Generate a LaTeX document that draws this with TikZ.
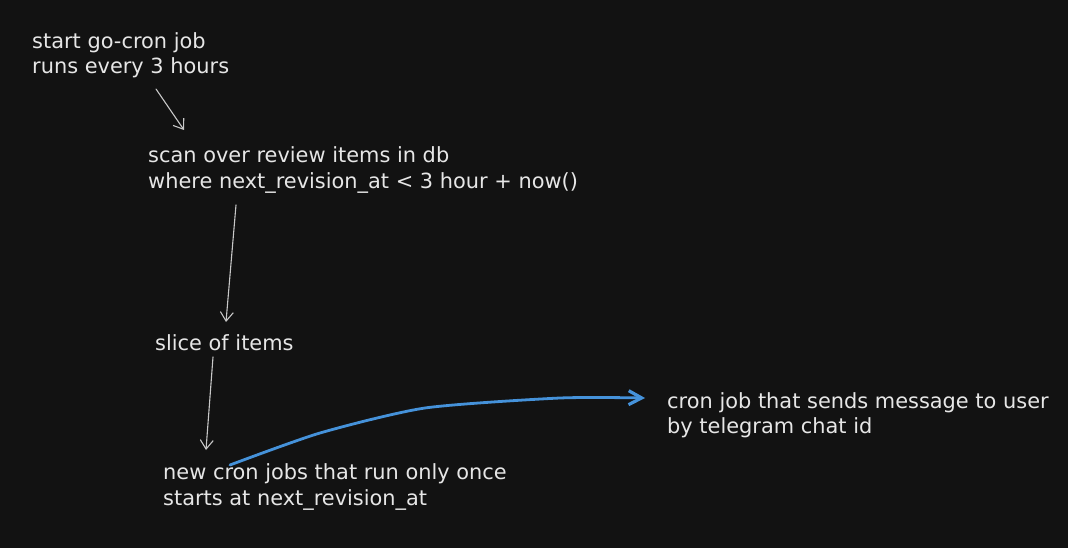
\documentclass[tikz,border=0pt]{standalone}
\usepackage{fontspec}
\setmainfont{DejaVu Sans}
\usetikzlibrary{arrows.meta}
\definecolor{bgc}{HTML}{121212}
\definecolor{txtc}{HTML}{E6E6E6}
\definecolor{arrc}{HTML}{C8C8C8}
\definecolor{bluec}{HTML}{4592DA}
\begin{document}
\begin{tikzpicture}[x=1pt,y=-1pt,
  lbl/.style={anchor=west,align=left,text=txtc,inner sep=0pt,font=\fontsize{20.9}{25.5}\selectfont},
  grayarrow/.style={draw=arrc,line width=1.1pt,line cap=round,-{Straight Barb[length=9pt,width=13pt,line width=1.1pt]}},
  bluearrow/.style={draw=bluec,line width=2.8pt,line cap=round,line join=round,-{Straight Barb[length=13pt,width=14pt,line width=3.2pt]}}]
\fill[bgc] (0,0) rectangle (1068,548);
\useasboundingbox (0,0) rectangle (1068,548);
\node[lbl] (t1) at (32,55) {start go-cron job\\runs every 3 hours};
\node[lbl] (t2) at (148,170) {scan over review items in db\\where next\_revision\_at < 3 hour + now()};
\node[lbl] (t3) at (155,343) {slice of items};
\node[lbl] (t4) at (163,487) {new cron jobs that run only once\\starts at next\_revision\_at};
\node[lbl] (t5) at (667,415) {cron job that sends message to user\\by telegram chat id};
\coordinate (a1s) at (156,89);
\coordinate (a1e) at (184,130);
\coordinate (a2s) at (236,205);
\coordinate (a2e) at (226,322);
\coordinate (a3s) at (213,357);
\coordinate (a3e) at (206,450);
\coordinate (b1s) at (230,465);
\coordinate (b1e) at (645,398);
\draw[grayarrow] (a1s) -- (a1e);
\draw[grayarrow] (a2s) -- (a2e);
\draw[grayarrow] (a3s) -- (a3e);
\draw[bluearrow] plot[smooth,tension=0.4] coordinates {(b1s) (320,433) (425,408) (560,398) (b1e)};
\end{tikzpicture}
\end{document}
